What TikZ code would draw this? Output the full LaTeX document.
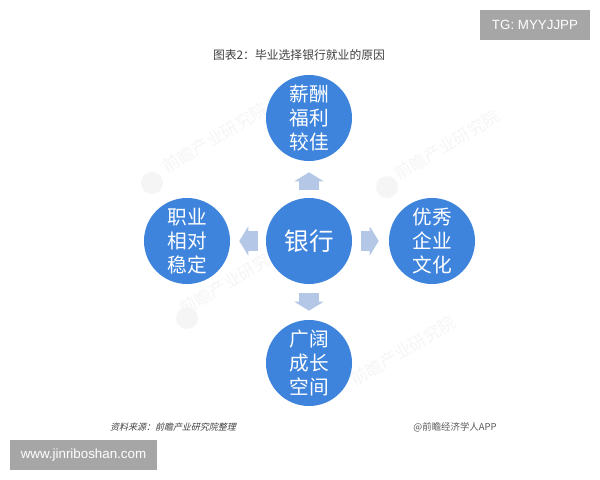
\documentclass[tikz,border=0pt]{standalone}
\usepackage{fontspec}
\usepackage{xcolor}
\setmainfont{Noto Sans CJK SC}
\newfontfamily\slantcjk[FakeSlant=0.25]{Noto Sans CJK SC}
\newfontfamily\latinfont{Liberation Sans}
\usetikzlibrary{arrows.meta}
\definecolor{circleblue}{HTML}{3E84DC}
\definecolor{arrowblue}{HTML}{B4C7E7}
\definecolor{badgegray}{HTML}{A6A6A6}
\definecolor{markgray}{HTML}{F5F5F5}
\tikzset{
  topic/.style={circle,fill=circleblue,text=white,minimum size=2.15cm,inner sep=0pt,align=center,font=\fontsize{14}{17}\selectfont},
  link/.style={draw=arrowblue,line width=.475cm,-{Triangle[length=.225cm,width=.725cm]}},
  badge/.style={fill=badgegray,text=white,inner sep=0pt,font=\latinfont\fontsize{9.5}{11}\selectfont},
  stamp/.style={text=markgray,rotate=31,font=\fontsize{12}{14}\selectfont},
  logo/.style={circle,fill=markgray,minimum size=.55cm,inner sep=0pt}
}
\begin{document}
\begin{tikzpicture}[x=.025cm,y=-.025cm]
  \useasboundingbox (0,0) rectangle (600,480);
  % watermarks
  \node[stamp] (markA) at (215,138) {前瞻产业研究院};
  \node[stamp] (markB) at (447,145) {前瞻产业研究院};
  \node[stamp] (markC) at (232,280) {前瞻产业研究院};
  \node[stamp] (markD) at (403,351) {前瞻产业研究院};
  \node[logo] (logoA) at (152,183) {};
  \node[logo] (logoB) at (387,187) {};
  \node[logo] (logoC) at (187,318) {};
  % circles
  \node[topic,font=\fontsize{17.5}{21}\selectfont] (bank) at (309,241) {银行};
  \node[topic] (pay) at (309,118) {薪酬\\福利\\较佳};
  \node[topic] (stable) at (187,241) {职业\\相对\\稳定};
  \node[topic] (culture) at (432,241) {优秀\\企业\\文化};
  \node[topic] (growth) at (309,363) {广阔\\成长\\空间};
  % arrows
  \draw[link,shorten <=.2cm,shorten >=.275cm] (bank) -- (pay);
  \draw[link,shorten <=.2cm,shorten >=.225cm] (bank) -- (stable);
  \draw[link,shorten <=.225cm,shorten >=.25cm] (bank) -- (culture);
  \draw[link,shorten <=.225cm,shorten >=.225cm] (bank) -- (growth);
  % texts
  \node[font=\fontsize{8.4}{10}\selectfont,text=black!75] (title) at (299,55) {图表2：毕业选择银行就业的原因};
  \node[font=\slantcjk\fontsize{6.4}{8}\selectfont,text=black!75] (source) at (173,427) {资料来源：前瞻产业研究院整理};
  \node[font=\fontsize{6.7}{8}\selectfont,text=black!65] (credit) at (455,427) {@前瞻经济学人APP};
  \node[badge,minimum width=2.75cm,minimum height=.75cm] (tg) at (535,25) {TG: MYYJJPP};
  \node[badge,minimum width=3.675cm,minimum height=.75cm] (site) at (83.5,455) {www.jinriboshan.com};
\end{tikzpicture}
\end{document}
